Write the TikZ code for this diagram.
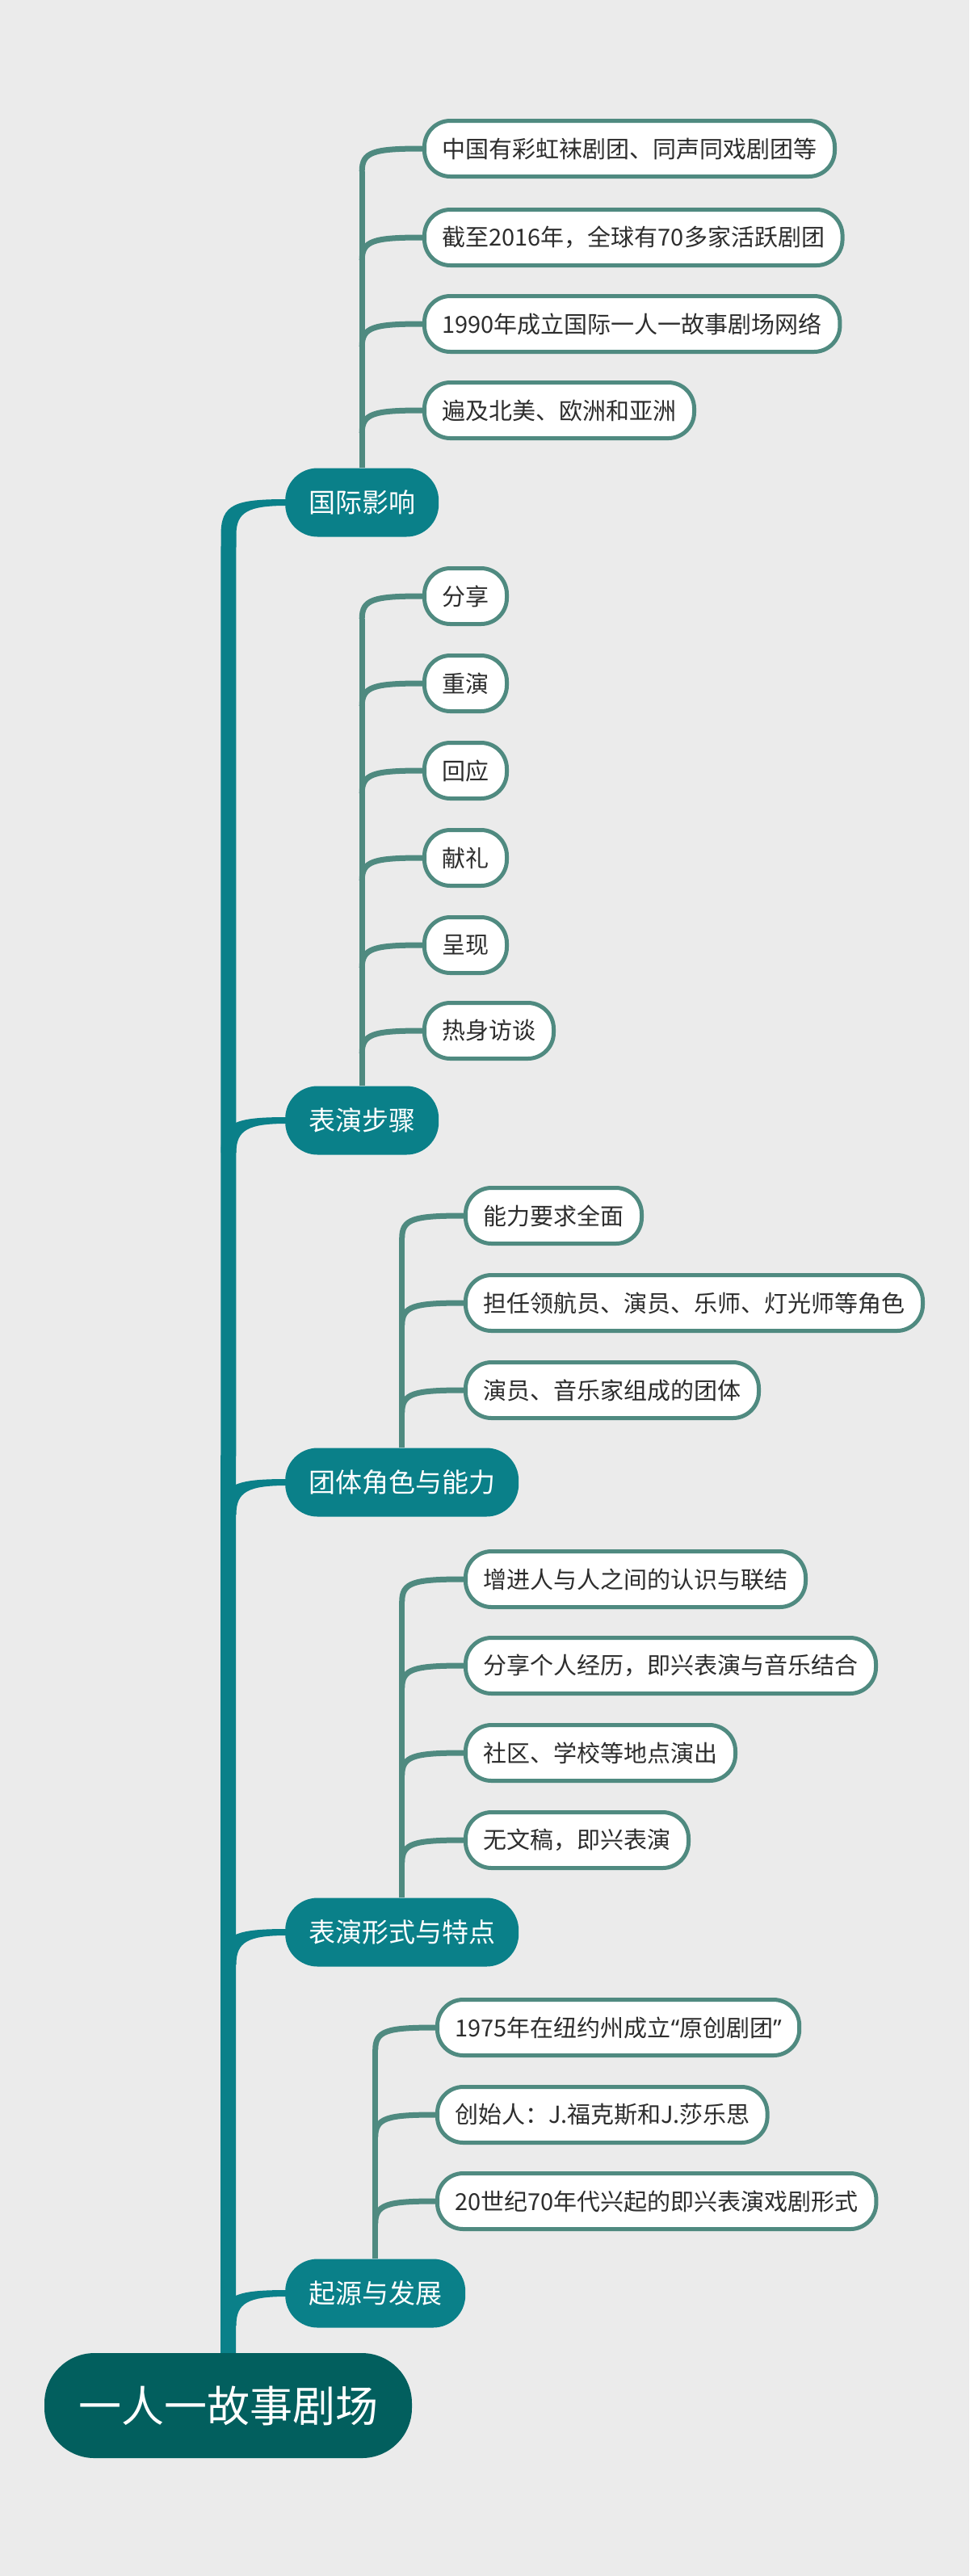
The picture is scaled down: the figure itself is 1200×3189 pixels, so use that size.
\documentclass[tikz,border=0pt]{standalone}
\usepackage{fontspec}
\setmainfont{Noto Sans CJK SC}
\newfontfamily\quotefont{Noto Sans}
\usepackage{tikz}
\usetikzlibrary{positioning,calc}
\definecolor{BgGray}{RGB}{235,235,235}
\definecolor{TopicTeal}{RGB}{10,128,137}
\definecolor{RootTeal}{RGB}{2,95,94}
\definecolor{LeafLine}{RGB}{79,138,128}
\definecolor{LeafText}{RGB}{45,45,45}
\tikzset{
	rootbox/.style={fill=RootTeal, text=white, rounded corners=62pt, minimum width=455pt, minimum height=130pt, font=\fontsize{53}{53}\selectfont},
	topicbox/.style={fill=TopicTeal, text=white, rounded corners=40pt, minimum height=85pt, inner xsep=29pt, anchor=west, font=\fontsize{33}{33}\selectfont},
	leafbox/.style={draw=LeafLine, line width=5pt, fill=white, text=LeafText, rounded corners=32pt, minimum height=69pt, inner xsep=22pt, anchor=west, font=\fontsize{29}{29}\selectfont},
	trunkline/.style={draw=TopicTeal, line width=19pt},
	mainline/.style={fill=TopicTeal},
	leafline/.style={draw=LeafLine, line width=7pt}}
% tapered branch from the trunk into a topic
\newcommand{\topicedge}[1]{\fill[mainline] ($(tk |- #1.west)+(-9.5,40)$) .. controls ($(tk |- #1.west)+(-9.5,2)$) and ($(tk |- #1.west)+(8,-4)$) .. ($(#1.west)+(2,-4)$) -- ($(#1.west)+(2,4)$) .. controls ($(tk |- #1.west)+(24,4)$) and ($(tk |- #1.west)+(9.5,12)$) .. ($(tk |- #1.west)+(9.5,40)$) -- cycle;}
% curved branch from a topic's stem into a leaf
\newcommand{\leafedge}[2]{\draw[leafline] ($(#1.north |- #2.west)+(0,28)$) .. controls ($(#1.north |- #2.west)+(0,4)$) and ($(#1.north |- #2.west)+(14,0)$) .. (#2.west);}

\begin{document}
\begin{tikzpicture}[x=1pt,y=-1pt]
	\useasboundingbox (0,0) rectangle (1200,3189);
	\fill[BgGray] (0,0) rectangle (1200,3189);
	\coordinate (tk) at (283,0);

	\node[rootbox] (root) at (282.5,2978) {一人一故事剧场};

	\node[topicbox] (intl) at (353,622) {国际影响};
	\node[topicbox] (steps) at (353,1387) {表演步骤};
	\node[topicbox] (team) at (353,1835) {团体角色与能力};
	\node[topicbox] (form) at (353,2392) {表演形式与特点};
	\node[topicbox] (origin) at (353,2839) {起源与发展};

	\node[leafbox] (intl1) at (523,184) {中国有彩虹袜剧团、同声同戏剧团等};
	\node[leafbox] (intl2) at (523,294) {截至2016年，全球有70多家活跃剧团};
	\node[leafbox] (intl3) at (523,401) {1990年成立国际一人一故事剧场网络};
	\node[leafbox] (intl4) at (523,508) {遍及北美、欧洲和亚洲};

	\node[leafbox] (steps1) at (523,738) {分享};
	\node[leafbox] (steps2) at (523,846) {重演};
	\node[leafbox] (steps3) at (523,954) {回应};
	\node[leafbox] (steps4) at (523,1062) {献礼};
	\node[leafbox] (steps5) at (523,1170) {呈现};
	\node[leafbox] (steps6) at (523,1276) {热身访谈};

	\node[leafbox] (team1) at (574,1505) {能力要求全面};
	\node[leafbox] (team2) at (574,1613) {担任领航员、演员、乐师、灯光师等角色};
	\node[leafbox] (team3) at (574,1721) {演员、音乐家组成的团体};

	\node[leafbox] (form1) at (574,1955) {增进人与人之间的认识与联结};
	\node[leafbox] (form2) at (574,2062) {分享个人经历，即兴表演与音乐结合};
	\node[leafbox] (form3) at (574,2170) {社区、学校等地点演出};
	\node[leafbox] (form4) at (574,2278) {无文稿，即兴表演};

	\node[leafbox] (origin1) at (539,2510) {1975年在纽约州成立{\quotefont “}原创剧团{\quotefont ”}};
	\node[leafbox] (origin2) at (539,2618) {创始人：J.福克斯和J.莎乐思};
	\node[leafbox] (origin3) at (539,2725) {20世纪70年代兴起的即兴表演戏剧形式};

	% trunk and topic branches
	\draw[trunkline] (root.north) -- ($(tk |- intl.west)+(0,40)$);
	\topicedge{intl}
	\topicedge{steps}
	\topicedge{team}
	\topicedge{form}
	\topicedge{origin}

	% leaf stems
	\draw[leafline] (intl.north) -- ($(intl.north |- intl1.west)+(0,28)$);
	\leafedge{intl}{intl1}
	\leafedge{intl}{intl2}
	\leafedge{intl}{intl3}
	\leafedge{intl}{intl4}

	\draw[leafline] (steps.north) -- ($(steps.north |- steps1.west)+(0,28)$);
	\leafedge{steps}{steps1}
	\leafedge{steps}{steps2}
	\leafedge{steps}{steps3}
	\leafedge{steps}{steps4}
	\leafedge{steps}{steps5}
	\leafedge{steps}{steps6}

	\draw[leafline] (team.north) -- ($(team.north |- team1.west)+(0,28)$);
	\leafedge{team}{team1}
	\leafedge{team}{team2}
	\leafedge{team}{team3}

	\draw[leafline] (form.north) -- ($(form.north |- form1.west)+(0,28)$);
	\leafedge{form}{form1}
	\leafedge{form}{form2}
	\leafedge{form}{form3}
	\leafedge{form}{form4}

	\draw[leafline] (origin.north) -- ($(origin.north |- origin1.west)+(0,28)$);
	\leafedge{origin}{origin1}
	\leafedge{origin}{origin2}
	\leafedge{origin}{origin3}
\end{tikzpicture}
\end{document}
